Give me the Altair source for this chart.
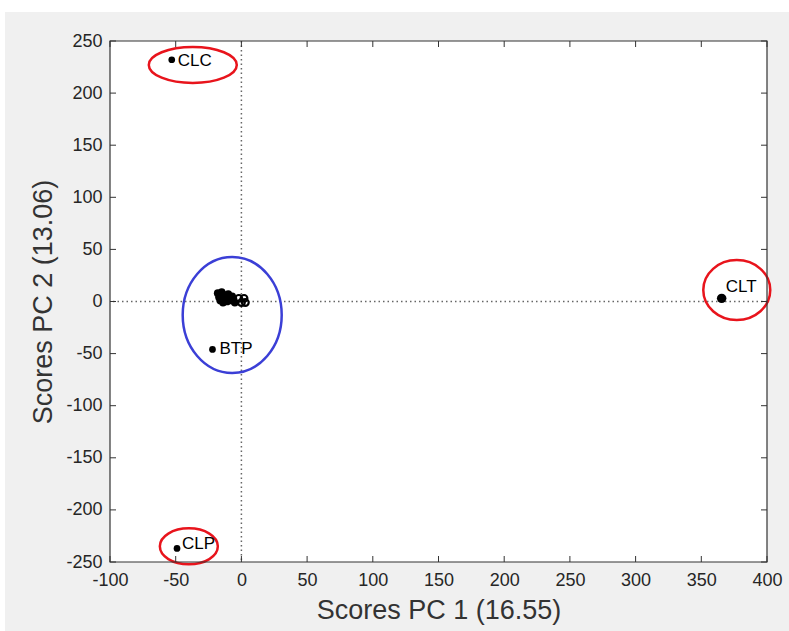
import altair as alt
import pandas as pd

# ---- data ----
names = ["CLC", "CLT", "BTP", "CLP"]
pc1 = [-53, 365.5, -22, -49]
pc2 = [232, 3, -46, -237]

cluster_pc1 = [-18, -17, -15, -16, -13, -12, -14, -10, -11, -9, -8, -13, -6, -5, -7, -15]
cluster_pc2 = [8, 4, 9, 1, 6, 3, -1, 7, 0, 4, 1, 5, 2, -1, 5, 5]
cluster_open_pc1 = [-2, 2, 0, 3]
cluster_open_pc2 = [3, 3, -1, -1]

x_ticks = [-100, -50, 0, 50, 100, 150, 200, 250, 300, 350, 400]
y_ticks = [-250, -200, -150, -100, -50, 0, 50, 100, 150, 200, 250]

# annotation ellipses: centre (data units)
ell_x = [-37, 377, -40, -7]
ell_y = [227, 11, -235, -13]
ell_rx = [44, 33.5, 29, 49.5]   # pixels
ell_ry = [18, 30, 18, 58]
ell_color = ["#e8141c", "#e8141c", "#e8141c", "#3b3fd6"]

# ---- layout ----
W, H = 657, 521
FONT = "Liberation Sans"
TXT = "#262626"

xs = alt.Scale(domain=[-100, 400], nice=False, zero=False)
ys = alt.Scale(domain=[-250, 250], nice=False, zero=False)

one = pd.DataFrame({"a": [0]})

# white strips at top and left of the grey figure background
strip_top = alt.Chart(one).mark_rect(color="white").encode(
    x=alt.value(-110), x2=alt.value(679), y=alt.value(-41), y2=alt.value(-29))
strip_left = alt.Chart(one).mark_rect(color="white").encode(
    x=alt.value(-110), x2=alt.value(-105), y=alt.value(-41), y2=alt.value(590))
plot_bg = alt.Chart(one).mark_rect(color="white").encode(
    x=alt.value(0), x2=alt.value(W), y=alt.value(0), y2=alt.value(H))

zero_df = pd.DataFrame({"z": [0]})
vline = alt.Chart(zero_df).mark_rule(color="#666666", strokeDash=[1.5, 3], strokeWidth=1.5).encode(
    x=alt.X("z:Q", scale=xs))
hline = alt.Chart(zero_df).mark_rule(color="#666666", strokeDash=[1.5, 3], strokeWidth=1.5).encode(
    y=alt.Y("z:Q", scale=ys))


def ellipse_path(rx, ry):
    R = max(rx, ry)
    a, b = rx / R, ry / R
    k = 0.5523
    return (f"M {a} 0 C {a} {k*b} {k*a} {b} 0 {b} "
            f"C {-k*a} {b} {-a} {k*b} {-a} 0 "
            f"C {-a} {-k*b} {-k*a} {-b} 0 {-b} "
            f"C {k*a} {-b} {a} {-k*b} {a} 0 Z")


ellipses = []
for cx, cy, rx, ry, col in zip(ell_x, ell_y, ell_rx, ell_ry, ell_color):
    R = max(rx, ry)
    ellipses.append(
        alt.Chart(pd.DataFrame({"ex": [cx], "ey": [cy]})).mark_point(
            shape=ellipse_path(rx, ry), size=(2 * R) ** 2, filled=False,
            color=col, strokeWidth=2.5, opacity=1
        ).encode(x=alt.X("ex:Q", scale=xs), y=alt.Y("ey:Q", scale=ys))
    )

df = pd.DataFrame({"PC1": pc1, "PC2": pc2, "name": names})

x_axis = alt.Axis(
    title="Scores PC 1 (16.55)", values=x_ticks, ticks=False, domain=False, grid=False,
    labelExpr="toString(datum.value)",
    labelFont=FONT, labelFontSize=18, labelColor=TXT, labelPadding=9, labelFlush=False,
    labelOverlap=False, titleFont=FONT, titleFontSize=27, titleFontWeight="normal",
    titleColor="#333333", titlePadding=8, zindex=1)
y_axis = alt.Axis(
    title="Scores PC 2 (13.06)", values=y_ticks, ticks=False, domain=False, grid=False,
    labelExpr="toString(datum.value)",
    labelFont=FONT, labelFontSize=18, labelColor=TXT, labelPadding=8, labelFlush=False,
    labelOverlap=False, titleFont=FONT, titleFontSize=27, titleFontWeight="normal",
    titleColor="#333333", titlePadding=8, zindex=1)

base = alt.Chart(df).encode(
    x=alt.X("PC1:Q", scale=xs, axis=x_axis),
    y=alt.Y("PC2:Q", scale=ys, axis=y_axis),
)
pts = base.transform_filter(alt.datum.name != "CLT").mark_point(
    filled=True, color="black", size=45, opacity=1)
pts_big = base.transform_filter(alt.datum.name == "CLT").mark_point(
    filled=True, color="black", size=90, opacity=1)

clu = alt.Chart(pd.DataFrame({"c1": cluster_pc1, "c2": cluster_pc2})).mark_point(
    filled=True, color="black", size=60, opacity=1).encode(
    x=alt.X("c1:Q", scale=xs), y=alt.Y("c2:Q", scale=ys))
clu_open = alt.Chart(pd.DataFrame({"c1": cluster_open_pc1, "c2": cluster_open_pc2})).mark_point(
    filled=False, color="black", size=45, strokeWidth=2.2, opacity=1).encode(
    x=alt.X("c1:Q", scale=xs), y=alt.Y("c2:Q", scale=ys))

label_off = {"CLC": (6, 1), "CLT": (4, -11), "BTP": (7, 0), "CLP": (5, -4)}
labels = []
for n, (dx, dy) in label_off.items():
    labels.append(
        base.transform_filter(alt.datum.name == n).mark_text(
            align="left", baseline="middle", dx=dx, dy=dy, font=FONT, fontSize=17, color="black"
        ).encode(text="name:N")
    )

# inward ticks on all four sides
xt = pd.DataFrame({"t": x_ticks})
yt = pd.DataFrame({"t": y_ticks})
TL = 6
tick_style = dict(color="#333333", strokeWidth=1)
xt_bot = alt.Chart(xt).mark_rule(**tick_style).encode(
    x=alt.X("t:Q", scale=xs), y=alt.value(H - TL), y2=alt.value(H))
xt_top = alt.Chart(xt).mark_rule(**tick_style).encode(
    x=alt.X("t:Q", scale=xs), y=alt.value(0), y2=alt.value(TL))
yt_left = alt.Chart(yt).mark_rule(**tick_style).encode(
    y=alt.Y("t:Q", scale=ys), x=alt.value(0), x2=alt.value(TL))
yt_right = alt.Chart(yt).mark_rule(**tick_style).encode(
    y=alt.Y("t:Q", scale=ys), x=alt.value(W - TL), x2=alt.value(W))

frame = alt.Chart(one).mark_rect(filled=False, stroke="#333333", strokeWidth=1.2).encode(
    x=alt.value(0), x2=alt.value(W), y=alt.value(0), y2=alt.value(H))

chart = alt.layer(
    strip_top, strip_left, plot_bg, vline, hline, *ellipses, clu, clu_open, pts, pts_big, *labels,
    xt_bot, xt_top, yt_left, yt_right, frame
).properties(
    width=W, height=H,
    autosize=alt.AutoSizeParams(type="none"),
    padding={"left": 110, "top": 41, "right": 22, "bottom": 69},
    background="#f0f0f0",
).configure_view(stroke=None)

chart.save("out.html", embed_options={"renderer": "svg", "actions": False})
